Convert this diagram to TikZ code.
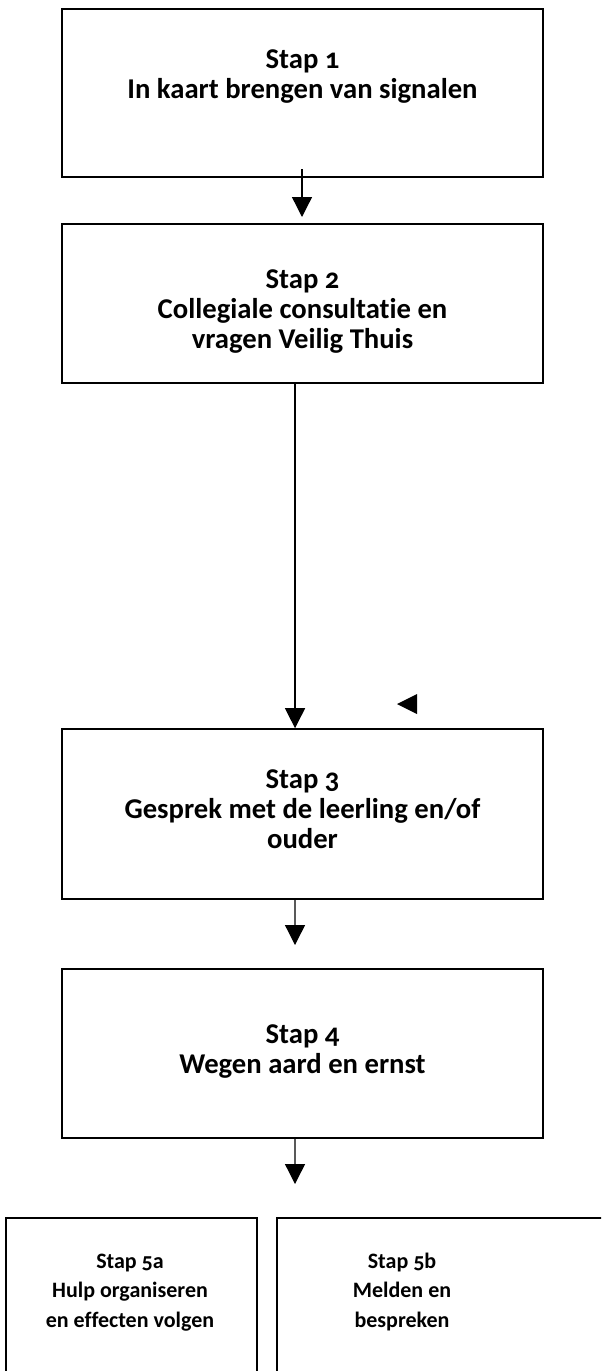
\documentclass[tikz,border=0pt]{standalone}
\usepackage{fontspec}
\setmainfont{Carlito}[Numbers=OldStyle,Ligatures=NoCommon]
\usetikzlibrary{arrows.meta,calc}
\begin{document}
\begin{tikzpicture}[x=0.75pt,y=-0.75pt,
  stepbox/.style={draw, line width=1.2pt, rectangle, inner sep=0pt},
  steptext/.style={font=\bfseries\fontsize{21.5}{22.5}\selectfont, align=center, anchor=base, inner sep=0pt},
  smalltext/.style={steptext, font=\bfseries\fontsize{16.5}{22}\selectfont},
  flow/.style={line width=1pt, -{Triangle[length=15pt,width=15pt]}}]
\useasboundingbox (0,0) rectangle (601,1371);
\clip (0,0) rectangle (601,1371);
% boxes
\node[stepbox, minimum width=361pt, minimum height=126pt] (b1) at (302.5,93) {};
\node[stepbox, minimum width=361pt, minimum height=119.25pt] (b2) at (302.5,303.5) {};
\node[stepbox, minimum width=361pt, minimum height=127.5pt] (b3) at (302.5,814) {};
\node[stepbox, minimum width=361pt, minimum height=126.75pt] (b4) at (302.5,1053.5) {};
\node[stepbox, minimum width=188.25pt, minimum height=150pt] (b5a) at (131.5,1318) {};
\node[stepbox, minimum width=300pt, minimum height=150pt] (b5b) at (477,1318) {};
% texts (anchored at the baseline of the last line)
\node[steptext] (t1) at (302.5,98) {Stap 1\\In kaart brengen van signalen};
\node[steptext] (t2) at (302.5,348) {Stap 2\\Collegiale consultatie en\\vragen Veilig Thuis};
\node[steptext] (t3) at (302.5,848) {Stap 3\\Gesprek met de leerling en/of\\ouder};
\node[steptext] (t4) at (302.5,1073) {Stap 4\\Wegen aard en ernst};
\node[smalltext] (t5a) at (130,1327) {Stap 5a\\Hulp organiseren\\en effecten volgen};
\node[smalltext] (t5b) at (402,1327) {Stap 5b\\Melden en\\bespreken};
% connectors
\coordinate (a1s) at (302,169);
\coordinate (a1e) at (302,217);
\draw[flow] (a1s) -- (a1e);
\draw[flow] ([xshift=-5.6pt]b2.south) -- ([xshift=-5.6pt]b3.north);
\coordinate (a3e) at (295,945);
\draw[flow] ([xshift=-5.6pt]b3.south) -- (a3e);
\coordinate (a4e) at (295,1184);
\draw[flow] ([xshift=-5.6pt]b4.south) -- (a4e);
% stray arrowhead
\fill (417,694) -- (397,704) -- (417,714) -- cycle;
\end{tikzpicture}
\end{document}
